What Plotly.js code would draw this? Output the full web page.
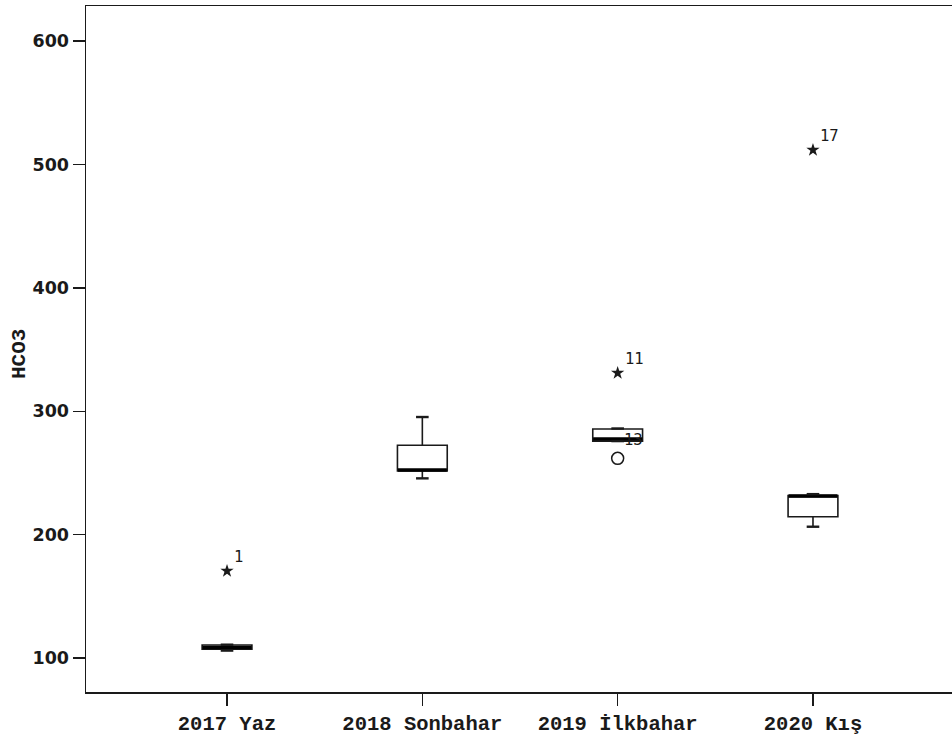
<!DOCTYPE html>
<html>
<head>
<meta charset="utf-8">
<script src="https://cdn.plot.ly/plotly-3.0.1.min.js"></script>
<style>
  html, body { margin: 0; padding: 0; overflow: hidden; background: #fff; }
  #chart { width: 960px; height: 738px; }
</style>
</head>
<body>
<div id="chart"></div>
<script>
// HCO3 by sampling season
const categories = ['2017 Yaz', '2018 Sonbahar', '2019 İlkbahar', '2020 Kış'];
const lowerFence = [106.0, 245.6, 275.8, 206.4];
const q1 = [107.2, 251.5, 275.8, 214.5];
const median = [108.6, 252.3, 277.5, 231.2];
const q3 = [110.6, 272.4, 285.6, 231.6];
const upperFence = [110.8, 295.3, 286.0, 232.8];

// Extreme outliers (stars) and mild outliers (circles) with case numbers
const extremeCats = ['2017 Yaz', '2019 İlkbahar', '2020 Kış'];
const extremeVals = [170.5, 331.0, 511.7];
const extremeIds = ['1', '11', '17'];
const mildCats = ['2019 İlkbahar'];
const mildVals = [261.8];
const mildIds = ['13'];

const yTicks = [100, 200, 300, 400, 500, 600];

const ink = '#1a1a1a';
const mono = 'DejaVu Sans Mono, monospace';
const serifMono = 'Liberation Mono, monospace';

const traces = [
  {
    type: 'box',
    x: categories,
    q1: q1,
    median: median,
    q3: q3,
    lowerfence: lowerFence,
    upperfence: upperFence,
    width: 0.255,
    whiskerwidth: 0,
    fillcolor: '#ffffff',
    line: { color: ink, width: 1.6 },
    boxpoints: false,
    hoverinfo: 'skip',
    showlegend: false
  },
  // thick median bars
  {
    type: 'scatter', mode: 'markers', x: categories, y: median,
    marker: { symbol: 'line-ew', size: 35, line: { color: '#000', width: 3.5 } },
    hoverinfo: 'skip', showlegend: false
  },
  // whisker caps
  {
    type: 'scatter', mode: 'markers',
    x: categories.concat(categories),
    y: lowerFence.concat(upperFence),
    marker: { symbol: 'line-ew', size: 9, line: { color: ink, width: 2.4 } },
    hoverinfo: 'skip', showlegend: false
  },
  {
    type: 'scatter', mode: 'markers', x: extremeCats, y: extremeVals,
    marker: { symbol: 'star', size: 10, color: ink, line: { width: 0 } },
    hoverinfo: 'skip', showlegend: false
  },
  {
    type: 'scatter', mode: 'markers', x: mildCats, y: mildVals,
    marker: { symbol: 'circle-open', size: 12, color: ink, line: { color: ink, width: 1.5 } },
    hoverinfo: 'skip', showlegend: false
  }
];

const labelFont = { family: mono, size: 15.5, color: ink };
const annotations = [];
extremeCats.forEach((c, i) => annotations.push({
  x: c, y: extremeVals[i], text: extremeIds[i], showarrow: false,
  xanchor: 'left', yanchor: 'middle', xshift: 5, yshift: 14, font: labelFont
}));
mildCats.forEach((c, i) => annotations.push({
  x: c, y: mildVals[i], text: mildIds[i], showarrow: false,
  xanchor: 'left', yanchor: 'middle', xshift: 4, yshift: 18, font: labelFont
}));
annotations.push({
  xref: 'paper', yref: 'paper', x: -0.076, y: 0.4534,
  text: 'HCO3', textangle: -90, showarrow: false,
  xanchor: 'center', yanchor: 'bottom',
  font: { family: serifMono, size: 21, color: ink, weight: 'bold' }
});

const layout = {
  width: 960, height: 738,
  margin: { l: 86, r: 6, t: 6, b: 46 },
  paper_bgcolor: '#fff', plot_bgcolor: '#fff',
  showlegend: false,
  xaxis: {
    type: 'category',
    range: [-0.722, 3.722],
    showgrid: false, zeroline: false,
    showline: true, mirror: true, linecolor: ink, linewidth: 1.5,
    ticks: 'outside', ticklen: 12, tickwidth: 1.4, tickcolor: ink,
    ticklabelstandoff: 0,
    tickfont: { family: serifMono, size: 20.5, color: ink, weight: 'bold' }
  },
  yaxis: {
    range: [72.45, 628.4],
    tickvals: yTicks,
    showgrid: false, zeroline: false,
    showline: true, mirror: true, linecolor: ink, linewidth: 1.5,
    ticks: 'outside', ticklen: 12, tickwidth: 1.4, tickcolor: ink,
    tickfont: { family: 'DejaVu Sans, sans-serif', size: 17.5, color: ink, weight: 'bold' }
  },
  annotations: annotations
};

Plotly.newPlot('chart', traces, layout, { displayModeBar: false, staticPlot: true });
</script>
</body>
</html>
